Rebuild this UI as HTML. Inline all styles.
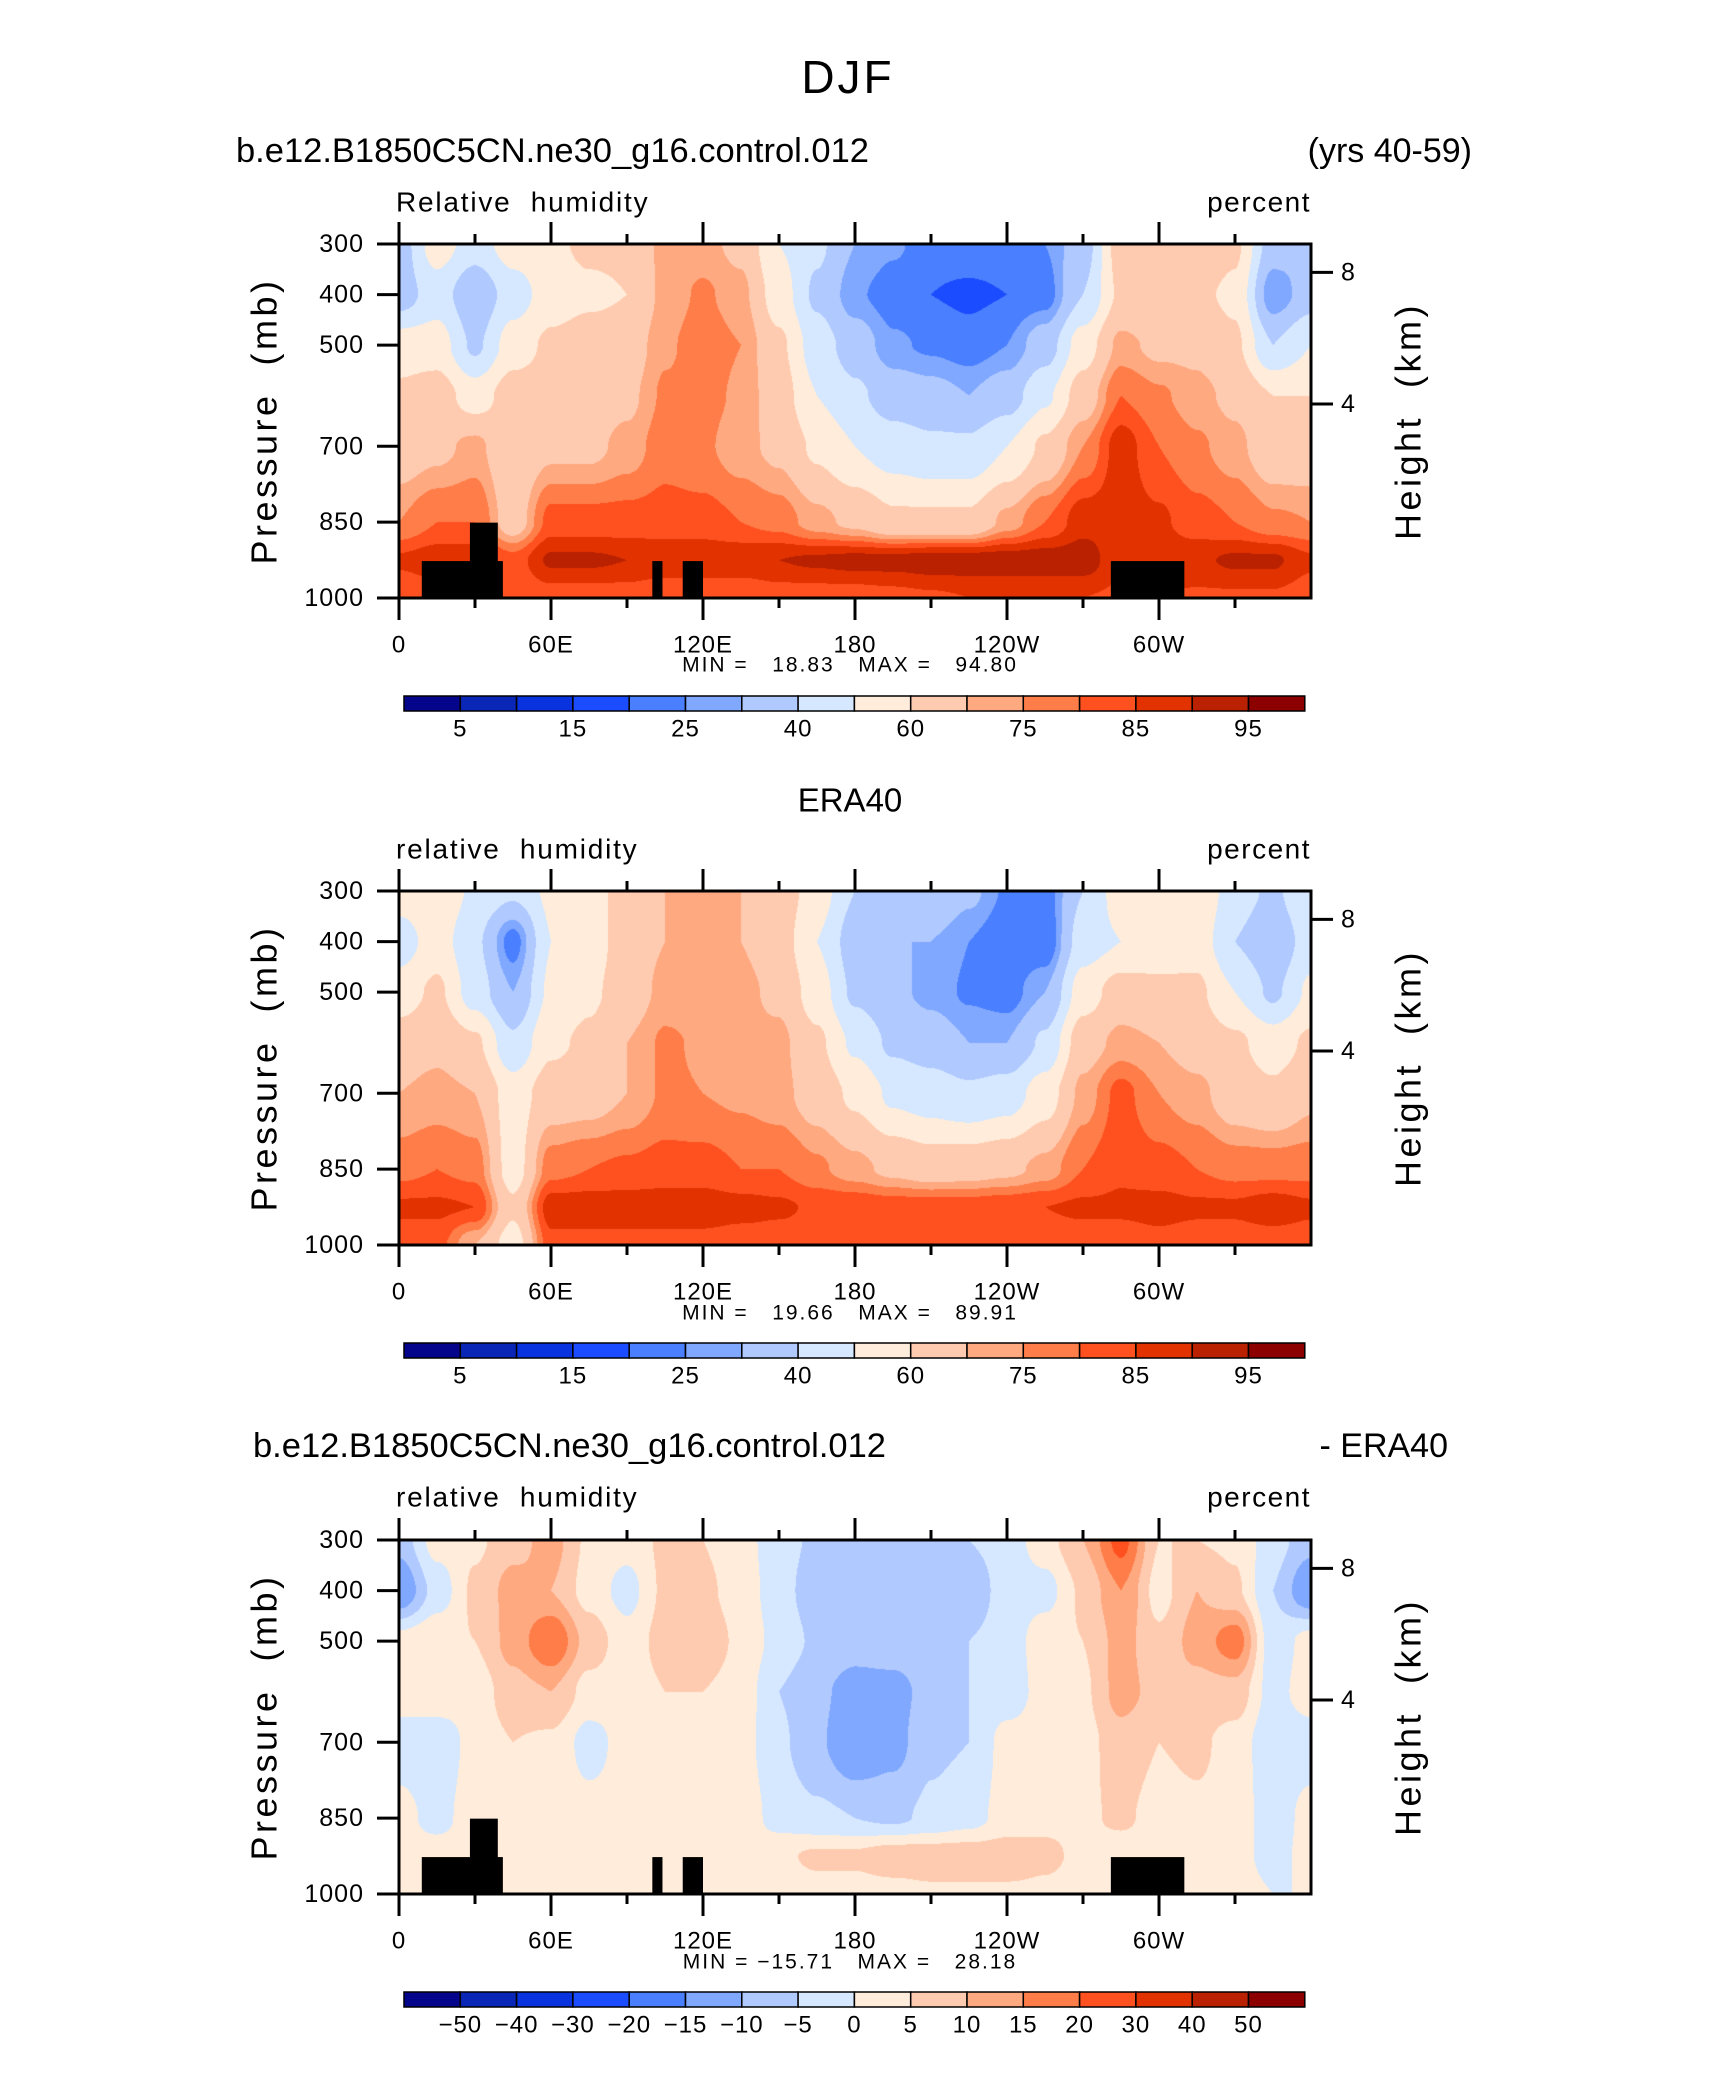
<!DOCTYPE html>
<html><head><meta charset="utf-8">
<style>
html,body{margin:0;padding:0;background:#fff;}
#root{position:relative;width:1710px;height:2074px;overflow:hidden;background:#fff;}
canvas{position:absolute;}
svg{position:absolute;left:0;top:0;}
text{font-family:"Liberation Sans",sans-serif;fill:#000;white-space:pre;}
</style></head>
<body>
<div id="root">
<canvas id="c1"></canvas>
<canvas id="c2"></canvas>
<canvas id="c3"></canvas>
<svg id="ov" width="1710" height="2074" xml:space="preserve"></svg>
</div>
<script>
// ---- data ----
const levels = [300,400,500,600,700,850,925,1000];
const lons = [0,15,30,45,60,75,90,105,120,135,150,165,180,195,210,225,240,255,270,285,300,315,330,345,360];
const xTickLabels = ["0","60E","120E","180","120W","60W"];
const xTickLons = [0,60,120,180,240,300];
const yTickLabels = [300,400,500,700,850,1000];
const heightTicks = [8,4];
const rhBounds = [5,10,15,20,25,30,40,50,60,70,75,80,85,90,95];
const rhBarLabels = ["5","","15","","25","","40","","60","","75","","85","","95"];
const diffBounds = [-50,-40,-30,-20,-15,-10,-5,0,5,10,15,20,30,40,50];
const diffBarLabels = ["\u221250","\u221240","\u221230","\u221220","\u221215","\u221210","\u22125","0","5","10","15","20","30","40","50"];
const palette = ["#05058c","#0a26b6","#0a33e0","#1c4cff","#4a7fff","#80a8ff","#b0c9ff","#d6e8ff","#ffecda","#ffcbb0","#ffa981","#ff7d48","#ff5020","#e13200","#b92100","#8c0000"];
// columns per longitude, values at levels 300..1000
const modelRH = [
[35,35,55,62,65,75,86,80],[55,45,55,65,68,80,88,82],[45,32,38,55,72,80,88,82],[55,45,55,65,62,65,82,80],
[58,55,62,65,68,82,91,82],[62,58,65,65,68,82,91,82],[62,60,65,68,72,82,90,82],[72,72,74,76,78,82,89,80],
[72,76,78,77,76,82,89,80],[68,72,75,74,72,80,89,80],[50,55,62,65,68,78,90,82],[42,38,45,50,58,72,91,82],
[30,26,35,42,50,68,92,82],[26,22,26,35,45,62,92,83],[22,20,24,33,42,62,93,84],[23,19,22,30,42,62,93,85],
[23,20,25,35,50,72,93,85],[25,22,35,48,62,80,93,85],[35,40,55,65,75,88,93,85],[65,62,72,80,88,88,86,84],
[70,60,68,76,80,86,88,85],[68,62,68,72,76,82,89,84],[62,58,62,68,72,80,91,84],[35,25,40,60,64,76,91,84],
[30,35,50,60,64,75,86,82]];
const eraRH = [
[55,45,55,65,70,78,86,82],[58,55,62,68,72,80,86,82],[48,42,45,62,70,78,85,70],[42,22,30,42,55,55,62,55],
[52,50,52,58,65,78,88,83],[55,55,58,62,66,80,88,83],[65,65,65,70,70,81,88,83],[70,70,72,76,76,82,88,83],
[70,70,72,74,75,82,88,83],[70,70,72,72,74,80,87,82],[66,65,68,72,72,80,86,82],[55,50,55,62,66,76,84,82],
[40,35,38,48,58,72,84,82],[35,30,32,38,48,68,83,82],[40,30,28,35,45,65,83,82],[32,25,24,30,42,66,83,82],
[24,20,22,30,45,68,84,82],[22,20,30,42,55,72,85,82],[40,45,55,66,72,80,86,82],[55,50,65,72,82,84,86,82],
[60,55,62,70,75,82,87,83],[58,56,62,66,72,80,86,82],[45,40,50,62,65,78,86,82],[38,32,38,55,62,78,88,82],
[50,45,52,62,68,78,86,82]];
const diffRH = [
[-8,-15,2,3,-3,2,2,0],[2,-3,4,4,-4,-2,3,2],[4,6,5,2,2,3,3,0],[8,12,12,8,5,5,3,3],
[12,10,20,10,4,3,3,3],[4,3,8,3,-2,2,2,2],[2,-2,2,2,2,2,2,2],[6,6,7,5,3,1,2,2],
[5,6,8,5,3,2,2,2],[2,3,4,3,2,3,3,2],[-3,-3,-2,-5,-4,-2,4,2],[-6,-8,-6,-9,-9,-4,6,3],
[-8,-9,-8,-12,-15,-5,6,3],[-8,-8,-7,-12,-12,-6,8,3],[-6,-7,-6,-8,-6,-4,8,4],[-5,-8,-5,-5,-5,-2,8,4],
[-3,-3,-3,-3,2,2,8,4],[3,-2,3,2,3,4,6,4],[10,6,5,4,3,4,4,3],[22,15,12,12,8,6,2,3],
[5,3,6,8,5,3,2,2],[5,10,12,8,6,4,3,2],[4,6,18,8,3,3,2,3],[-3,-5,-3,-2,-4,-3,-2,0],
[-8,-15,2,3,-3,2,2,0]];
// topography blocks
const mtnLon0 = [9,28,100,112,281];
const mtnLon1 = [41,39,104,120,310];
const mtnTop = [927,851,927,927,927];

// ---- layout ----
const PX0=399, PX1=1311, PH=354;
const panels = [
 {id:"c1", top:244, data:modelRH, bounds:rhBounds, bar:rhBarLabels, mtn:true, name:"model"},
 {id:"c2", top:891, data:eraRH, bounds:rhBounds, bar:rhBarLabels, mtn:false, name:"era40"},
 {id:"c3", top:1540, data:diffRH, bounds:diffBounds, bar:diffBarLabels, mtn:true, name:"difference"}
];
const xOf = lon => PX0 + lon/360*(PX1-PX0);
const yOf = (p,top) => top + (p-300)/700*PH;
const NS="http://www.w3.org/2000/svg";
const ov=document.getElementById('ov');
function mk(tag,attrs,parent){const e=document.createElementNS(NS,tag);for(const k in attrs)e.setAttribute(k,attrs[k]);(parent||ov).appendChild(e);return e;}
function txt(s,x,y,size,anchor,extra){const e=mk('text',Object.assign({x:x,y:y,'font-size':size,'text-anchor':anchor||'start','dominant-baseline':'central'},extra||{}));e.textContent=s;return e;}
function hex2rgb(h){return [parseInt(h.slice(1,3),16),parseInt(h.slice(3,5),16),parseInt(h.slice(5,7),16)];}
const palRGB = palette.map(hex2rgb);

function interp(data,lon,p){
  let i=Math.min(Math.floor(lon/15),lons.length-2);
  let fx=(lon-lons[i])/15;
  let j=0; while(j<levels.length-2 && p>levels[j+1]) j++;
  let fy=(p-levels[j])/(levels[j+1]-levels[j]);
  fy=Math.max(0,Math.min(1,fy));
  const a=data[i][j],b=data[i+1][j],c=data[i][j+1],d=data[i+1][j+1];
  const s=x=>x*x*(3-2*x);
  const gx=s(fx), gy=s(fy);
  return (a*(1-gx)+b*gx)*(1-gy)+(c*(1-gx)+d*gx)*gy;
}
function colorIdx(v,bounds){let k=0;while(k<bounds.length && v>=bounds[k])k++;return k;}

panels.forEach(P=>{
  const cv=document.getElementById(P.id);
  const w=PX1-PX0, h=PH;
  cv.width=w; cv.height=h; cv.style.left=PX0+'px'; cv.style.top=P.top+'px';
  const ctx=cv.getContext('2d');
  const img=ctx.createImageData(w,h);
  for(let y=0;y<h;y++){
    const p=300+(y+0.5)/h*700;
    for(let x=0;x<w;x++){
      const lon=(x+0.5)/w*360;
      const v=interp(P.data,lon,p);
      const c=palRGB[colorIdx(v,P.bounds)];
      const o=(y*w+x)*4; img.data[o]=c[0];img.data[o+1]=c[1];img.data[o+2]=c[2];img.data[o+3]=255;
    }
  }
  ctx.putImageData(img,0,0);

  const g=mk('g',{});
  
  
  if(P.mtn){
    for(let k=0;k<mtnLon0.length;k++){
      const r=mk('rect',{x:xOf(mtnLon0[k]),y:yOf(mtnTop[k],P.top),width:xOf(mtnLon1[k])-xOf(mtnLon0[k]),height:yOf(1000,P.top)-yOf(mtnTop[k],P.top),fill:'#000'},g);
      
      
    }
  }
  const fr=mk('rect',{x:PX0,y:P.top,width:PX1-PX0,height:PH,fill:'none',stroke:'#000','stroke-width':3},g);
  
  
  const B=P.top+PH;
  for(let lon=0;lon<360;lon+=30){
    const major=lon%60===0, x=xOf(lon);
    mk('line',{x1:x,x2:x,y1:P.top,y2:P.top-(major?22:10),stroke:'#000','stroke-width':3},g);
    mk('line',{x1:x,x2:x,y1:B,y2:B+(major?22:10),stroke:'#000','stroke-width':3},g);
  }
  xTickLabels.forEach((s,i)=>{
    const t=txt(s,xOf(xTickLons[i]),B+47,24,'middle',{'letter-spacing':'1'});
    
    
  });
  yTickLabels.forEach(p=>{
    const y=yOf(p,P.top);
    mk('line',{x1:PX0-22,x2:PX0,y1:y,y2:y,stroke:'#000','stroke-width':3},g);
    const t=txt(String(p),PX0-35,y,25,'end',{'letter-spacing':'1'});
    
    
  });
  heightTicks.forEach(hk=>{
    const p=1013.25*Math.pow(1-2.25577e-5*hk*1000,5.25588);
    const y=yOf(p,P.top);
    mk('line',{x1:PX1,x2:PX1+22,y1:y,y2:y,stroke:'#000','stroke-width':3},g);
    const t=txt(String(hk),PX1+30,y,25,'start');
    
    
  });
  const yl=txt('Pressure  (mb)',0,0,36,'middle',{transform:`translate(264,${P.top+177}) rotate(-90)`,'letter-spacing':'3.5'});
  
  
  const hl=txt('Height  (km)',0,0,36,'middle',{transform:`translate(1408,${P.top+177}) rotate(-90)`,'letter-spacing':'3.5'});
  
  
  const cbY=B+98, cbX0=404, bw=56.3;
  for(let k=0;k<16;k++){
    const r=mk('rect',{x:cbX0+k*bw,y:cbY,width:bw,height:15,fill:palette[k],stroke:'#000','stroke-width':1.5},g);
    
    
  }
  P.bar.forEach((s,k)=>{ if(s){const t=txt(s,cbX0+(k+1)*bw,cbY+33,24,'middle',{'letter-spacing':'1'});
    
    }});
});

function T(s,x,y,size,anchor,name,extra){const t=txt(s,x,y,size,anchor,extra);return t;}
T('DJF',848,77,46,'middle','figure-title',{'letter-spacing':'3'});
T('b.e12.B1850C5CN.ne30_g16.control.012',236,151,34.5,'start','panel1-title');
T('(yrs 40-59)',1472,151,34,'end','panel1-years');
T('Relative  humidity',396,202,28,'start','panel1-variable',{'letter-spacing':'1.8'});
T('percent',1311,202,28,'end','panel1-units',{'letter-spacing':'1.5'});
T('MIN =   18.83   MAX =   94.80',850,665,21,'middle','panel1-minmax',{'letter-spacing':'2'});
T('ERA40',850,800,33,'middle','panel2-title');
T('relative  humidity',396,849,28,'start','panel2-variable',{'letter-spacing':'1.8'});
T('percent',1311,849,28,'end','panel2-units',{'letter-spacing':'1.5'});
T('MIN =   19.66   MAX =   89.91',850,1313,21,'middle','panel2-minmax',{'letter-spacing':'2'});
T('b.e12.B1850C5CN.ne30_g16.control.012',253,1446,34.5,'start','panel3-title');
T('- ERA40',1448,1446,34,'end','panel3-subtract');
T('relative  humidity',396,1497,28,'start','panel3-variable',{'letter-spacing':'1.8'});
T('percent',1311,1497,28,'end','panel3-units',{'letter-spacing':'1.5'});
T('MIN = \u221215.71   MAX =   28.18',850,1962,21,'middle','panel3-minmax',{'letter-spacing':'2'});
</script>
</body></html>
